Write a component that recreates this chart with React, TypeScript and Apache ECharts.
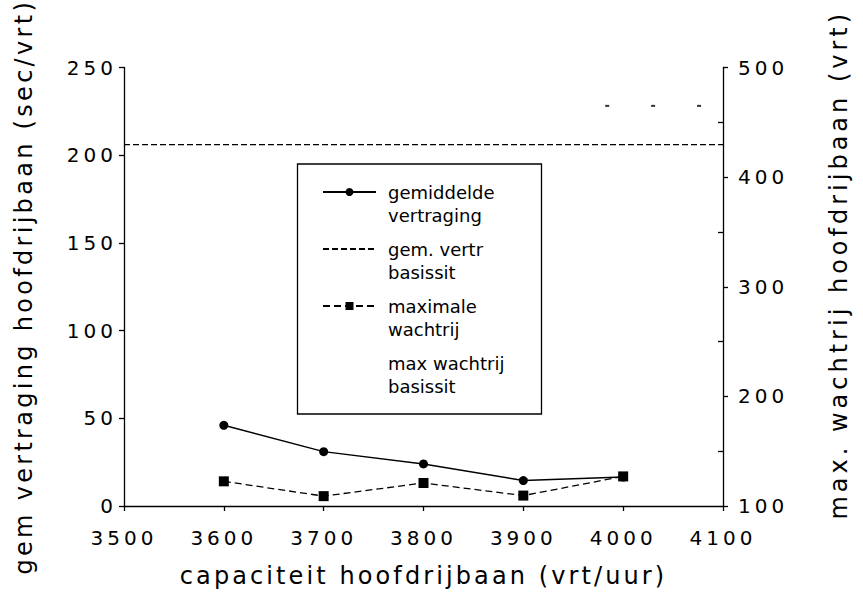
import React, { useEffect, useRef } from 'react';
import * as echarts from 'echarts';

const FONT = "'DejaVu Sans', 'Liberation Sans', sans-serif";

// capacities (x) and series values
const capacities = [3600, 3700, 3800, 3900, 4000];
const avgDelay = [46, 31, 24, 14.5, 16.5];
const maxQueue = [122.5, 109, 121, 109.5, 127];
const baseDelayX = [3500, 4100];
const baseDelayValue = 206;
const baseQueueX = [3984, 4030, 4076];
const baseQueueValue = 465;
const rightMinorTicks = [150, 250, 350, 450];

const seriesNames = [
  'gemiddelde vertraging',
  'gem. vertr basissit',
  'maximale wachtrij',
  'max wachtrij basissit',
];
const legendLabels: Record<string, string> = {
  'gemiddelde vertraging': '\ngemiddelde\nvertraging',
  'gem. vertr basissit': '\ngem. vertr\nbasissit',
  'maximale wachtrij': '\nmaximale\nwachtrij',
  'max wachtrij basissit': '\nmax wachtrij\nbasissit',
};

const xTitle = 'capaciteit hoofdrijbaan (vrt/uur)';
const leftTitle = 'gem vertraging hoofdrijbaan (sec/vrt)';
const rightTitle = 'max. wachtrij hoofdrijbaan (vrt)';

const spacingFor = (s: string): number => {
  if (/^\d+$/.test(s)) return 4;
  if (s === leftTitle) return 3.3;
  if (s === rightTitle) return 4;
  if (s === xTitle) return 3.1;
  return 0;
};

export default function App() {
  const ref = useRef<HTMLDivElement>(null);
  useEffect(() => {
    if (!ref.current) return;
    const el = ref.current;
    const chart = echarts.init(el, undefined, { renderer: 'svg' });
    const axisLineStyle = { color: '#000', width: 1.3 };
    const plain = (v: number) => String(v);
    const option: any = {
      animation: false,
      backgroundColor: '#fff',
      textStyle: { fontFamily: FONT, color: '#000' },
      grid: { left: 124, right: 140, top: 67.5, bottom: 89, containLabel: false },
      xAxis: {
        type: 'value',
        min: 3500,
        max: 4100,
        interval: 100,
        name: xTitle,
        nameLocation: 'middle',
        nameGap: 58,
        nameTextStyle: { fontSize: 24, color: '#000', fontFamily: FONT },
        axisLine: { lineStyle: axisLineStyle },
        axisTick: { length: 5, lineStyle: axisLineStyle },
        axisLabel: { fontSize: 20, color: '#000', margin: 22, fontFamily: FONT, formatter: plain },
        splitLine: { show: false },
      },
      yAxis: [
        {
          type: 'value',
          min: 0,
          max: 250,
          interval: 50,
          position: 'left',
          name: leftTitle,
          nameLocation: 'middle',
          nameGap: 88,
          nameTextStyle: { fontSize: 24, color: '#000', fontFamily: FONT },
          axisLine: { show: true, lineStyle: axisLineStyle },
          axisTick: { show: true, length: 5, lineStyle: axisLineStyle },
          axisLabel: { fontSize: 20, color: '#000', margin: 7, fontFamily: FONT, formatter: plain },
          splitLine: { show: false },
        },
        {
          type: 'value',
          min: 100,
          max: 500,
          interval: 100,
          position: 'right',
          name: rightTitle,
          nameLocation: 'middle',
          nameGap: 104,
          nameTextStyle: { fontSize: 24, color: '#000', fontFamily: FONT, padding: [0, 0, 0, 44] },
          axisLine: { show: true, lineStyle: axisLineStyle },
          axisTick: { show: true, length: 5, lineStyle: axisLineStyle },
          axisLabel: { fontSize: 20, color: '#000', margin: 15, fontFamily: FONT, formatter: plain },
          splitLine: { show: false },
        },
        {
          type: 'value',
          min: 100,
          max: 500,
          interval: 100,
          position: 'right',
          axisLine: { show: false },
          axisTick: { show: true, inside: true, length: 5, lineStyle: axisLineStyle, customValues: rightMinorTicks },
          axisLabel: { show: false },
          splitLine: { show: false },
        },
      ],
      legend: {
        left: 322,
        top: 157.5,
        orient: 'vertical',
        padding: 0,
        itemGap: -12,
        itemWidth: 53,
        itemHeight: 10,
        selectedMode: false,
        textStyle: { fontSize: 18, lineHeight: 23, color: '#000', padding: [0, 0, 0, 7], fontFamily: FONT },
        formatter: (n: string) => legendLabels[n] || n,
        data: [
          { name: seriesNames[0] },
          { name: seriesNames[1], itemStyle: { opacity: 0 } },
          { name: seriesNames[2] },
          { name: seriesNames[3], icon: 'none' },
        ],
      },
      graphic: [
        {
          type: 'rect',
          shape: { x: 297.5, y: 164, width: 244, height: 250 },
          style: { fill: 'none', stroke: '#000', lineWidth: 1.3 },
        },
      ],
      series: [
        {
          name: seriesNames[0],
          type: 'line',
          yAxisIndex: 0,
          data: capacities.map((c, i) => [c, avgDelay[i]]),
          symbol: 'circle',
          symbolSize: 9,
          lineStyle: { color: '#000', width: 1.5 },
          itemStyle: { color: '#000' },
          z: 3,
        },
        {
          name: seriesNames[1],
          type: 'line',
          yAxisIndex: 0,
          data: baseDelayX.map((x) => [x, baseDelayValue]),
          symbol: 'none',
          lineStyle: { color: '#000', width: 1.3, type: [6, 3] },
          itemStyle: { color: '#000' },
        },
        {
          name: seriesNames[2],
          type: 'line',
          yAxisIndex: 1,
          data: capacities.map((c, i) => [c, maxQueue[i]]),
          symbol: 'rect',
          symbolSize: 10,
          lineStyle: { color: '#000', width: 1.3, type: [7, 4] },
          itemStyle: { color: '#000' },
          z: 4,
        },
        {
          name: seriesNames[3],
          type: 'scatter',
          yAxisIndex: 1,
          data: baseQueueX.map((x) => [x, baseQueueValue]),
          symbol: 'rect',
          symbolSize: [4, 2],
          itemStyle: { color: '#000' },
        },
      ],
    };
    chart.setOption(option);
    const applySpacing = () => {
      el.querySelectorAll('text').forEach((t) => {
        const ls = spacingFor((t.textContent || '').trim());
        if (ls) t.setAttribute('letter-spacing', String(ls));
      });
    };
    applySpacing();
    chart.on('finished', applySpacing);
    return () => {
      chart.dispose();
    };
  }, []);
  return (
    <div
      ref={ref}
      style={{ position: 'absolute', left: 0, top: 0, width: 863, height: 595, background: '#fff' }}
    />
  );
}
